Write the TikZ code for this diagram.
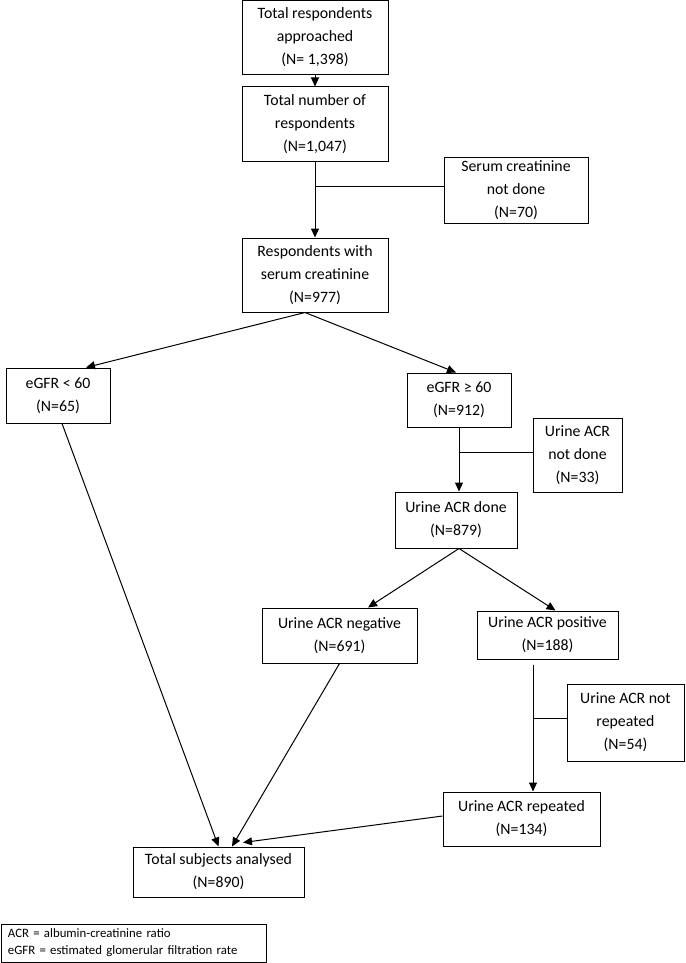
\documentclass[tikz,border=0pt]{standalone}
\usepackage{fontspec}
\setmainfont{Carlito}
\usetikzlibrary{arrows.meta}

\begin{document}
\begin{tikzpicture}[x=1pt,y=-1pt,
  box/.style={draw, line width=1pt, align=center, inner sep=0pt, font=\fontsize{15.8}{23}\selectfont},
  note/.style={draw, line width=1pt, align=left, inner xsep=7pt, inner ysep=0pt, text width=251pt, font=\fontsize{12.8}{17}\selectfont},
  flow/.style={draw, line width=1pt, -{Triangle[length=9pt,width=8pt]}},
  link/.style={draw, line width=1pt}]

\useasboundingbox (0,0) rectangle (685,963);

% Screening

\node[box, minimum width=146pt, minimum height=74pt] (approached) at (315,37.5) {Total respondents\\approached\\(N= 1,398)};
\node[box, minimum width=146pt, minimum height=74pt] (respondents) at (315,124) {Total number of\\respondents\\(N=1,047)};
\node[box, minimum width=144pt, minimum height=66pt] (excl_serum) at (516,190) {Serum creatinine\\not done\\(N=70)};
\node[box, minimum width=146pt, minimum height=74pt] (serum) at (315,275) {Respondents with\\serum creatinine\\(N=977)};
\coordinate (j_serum) at (315,186);

\draw[flow] (approached.south) -- (respondents.north);
\draw[flow] (respondents.south) -- (serum.north);
\draw[link] (excl_serum.west |- j_serum) -- (j_serum);

% eGFR split

\node[box, minimum width=104pt, minimum height=55pt] (egfr_low) at (58,395.5) {eGFR < 60\\(N=65)};
\node[box, minimum width=104pt, minimum height=54pt] (egfr_high) at (459,400) {eGFR ≥ 60\\(N=912)};
\node[box, minimum width=89pt, minimum height=74pt] (excl_acr) at (577.5,455) {Urine ACR\\not done\\(N=33)};
\node[box, minimum width=122pt, minimum height=56pt] (acr_done) at (456,520) {Urine ACR done\\(N=879)};

\draw[flow] ([xshift=-10pt]serum.south) -- ([xshift=28pt]egfr_low.north);
\draw[flow] ([xshift=-10pt]serum.south) -- ([xshift=-3pt]egfr_high.north);
\draw[flow] (egfr_high.south) -- (egfr_high.south |- acr_done.north);
\draw[link] ([yshift=3pt]excl_acr.west) -- ([yshift=3pt]excl_acr.west -| egfr_high.south);

% Urine ACR

\node[box, minimum width=155pt, minimum height=55pt] (acr_neg) at (339.5,635.5) {Urine ACR negative\\(N=691)};
\node[box, minimum width=141pt, minimum height=48pt] (acr_pos) at (547.5,635) {Urine ACR positive\\(N=188)};
\node[box, minimum width=117pt, minimum height=77pt] (excl_rep) at (625.5,722.5) {Urine ACR not\\repeated\\(N=54)};
\node[box, minimum width=157pt, minimum height=54pt] (acr_rep) at (521.5,819) {Urine ACR repeated\\(N=134)};
\coordinate (j_rep) at (533,718);

\draw[flow] ([xshift=3pt]acr_done.south) -- ([xshift=28.5pt]acr_neg.north);
\draw[flow] ([xshift=3pt]acr_done.south) -- ([xshift=8pt]acr_pos.north);
\draw[flow] ([xshift=-14.5pt,yshift=-5pt]acr_pos.south) -- (j_rep |- acr_rep.north);
\draw[link] (excl_rep.west |- j_rep) -- (j_rep);

% Analysis

\node[box, minimum width=171pt, minimum height=50pt] (total) at (218.5,872) {Total subjects analysed\\(N=890)};

\draw[flow] ([xshift=4pt]egfr_low.south) -- (total.north);
\draw[flow] (acr_neg.south) -- ([xshift=13.5pt]total.north);
\draw[flow] ([yshift=3pt]acr_rep.west) -- ([xshift=24.5pt,yshift=4pt]total.north);

% Legend

\node[note, minimum height=38pt] (legend) at (133.5,943) {ACR = albumin-creatinine ratio\\eGFR = estimated glomerular filtration rate};

\end{tikzpicture}
\end{document}
